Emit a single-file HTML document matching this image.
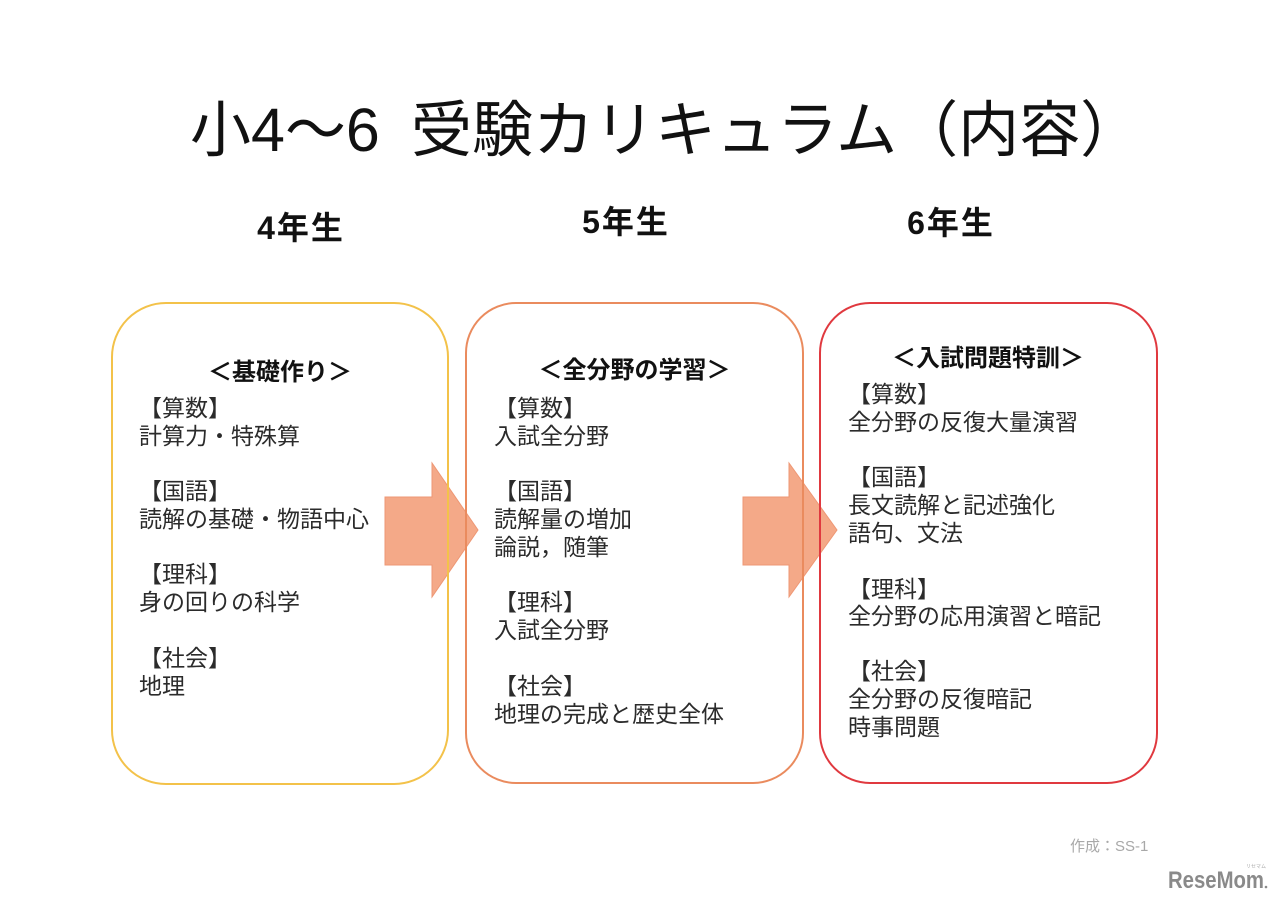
<!DOCTYPE html>
<html lang="ja">
<head>
<meta charset="utf-8">
<style>
  html, body { margin:0; padding:0; background:#ffffff; }
  body { width:1280px; height:904px; overflow:hidden; }
  svg { display:block; }
  .t { font-family:"Liberation Sans","Noto Sans CJK JP",sans-serif; }
</style>
</head>
<body>
<svg width="1280" height="904" viewBox="0 0 1280 904" xmlns="http://www.w3.org/2000/svg">
  <rect x="0" y="0" width="1280" height="904" fill="#ffffff"/>

  <!-- Title -->
  <text class="t" x="190" y="151" font-size="61" fill="#111">小4～6</text>
  <text class="t" x="411" y="151" font-size="61" fill="#111">受験カリキュラム（内容）</text>

  <!-- Year labels -->
  <text class="t" x="301" y="239" font-size="32" font-weight="bold" fill="#111" text-anchor="middle" letter-spacing="2">4年生</text>
  <text class="t" x="626" y="233" font-size="32" font-weight="bold" fill="#111" text-anchor="middle" letter-spacing="2">5年生</text>
  <text class="t" x="951" y="234" font-size="32" font-weight="bold" fill="#111" text-anchor="middle" letter-spacing="2">6年生</text>

  <!-- Arrows -->
  <polygon points="385,497 432,497 432,463 478,530 432,597 432,565 385,565" fill="#F4A988" stroke="#EE9774" stroke-width="1"/>
  <polygon points="743,497 789,497 789,463 837,530 789,597 789,565 743,565" fill="#F4A988" stroke="#EE9774" stroke-width="1"/>

  <!-- Boxes -->
  <rect x="112" y="303" width="336" height="481" rx="54" ry="54" fill="none" stroke="#F3C24A" stroke-width="2"/>
  <rect x="466" y="303" width="337" height="480" rx="50" ry="50" fill="none" stroke="#EA8B5E" stroke-width="2"/>
  <rect x="820" y="303" width="337" height="480" rx="50" ry="50" fill="none" stroke="#E0393F" stroke-width="2"/>

  <!-- Box 1 -->
  <g class="t" font-size="23" fill="#2b2b2b">
    <text x="280" y="380" font-size="24" font-weight="bold" fill="#111" text-anchor="middle">＜基礎作り＞</text>
    <text x="139" y="416">【算数】</text>
    <text x="139" y="444">計算力・特殊算</text>
    <text x="139" y="499">【国語】</text>
    <text x="139" y="527">読解の基礎・物語中心</text>
    <text x="139" y="582">【理科】</text>
    <text x="139" y="610">身の回りの科学</text>
    <text x="139" y="666">【社会】</text>
    <text x="139" y="694">地理</text>
  </g>

  <!-- Box 2 -->
  <g class="t" font-size="23" fill="#2b2b2b">
    <text x="634.5" y="378" font-size="24" font-weight="bold" fill="#111" text-anchor="middle">＜全分野の学習＞</text>
    <text x="494" y="416">【算数】</text>
    <text x="494" y="444">入試全分野</text>
    <text x="494" y="499">【国語】</text>
    <text x="494" y="527">読解量の増加</text>
    <text x="494" y="555">論説，随筆</text>
    <text x="494" y="610">【理科】</text>
    <text x="494" y="638">入試全分野</text>
    <text x="494" y="694">【社会】</text>
    <text x="494" y="722">地理の完成と歴史全体</text>
  </g>

  <!-- Box 3 -->
  <g class="t" font-size="23" fill="#2b2b2b">
    <text x="988" y="366" font-size="24" font-weight="bold" fill="#111" text-anchor="middle">＜入試問題特訓＞</text>
    <text x="848" y="402">【算数】</text>
    <text x="848" y="430">全分野の反復大量演習</text>
    <text x="848" y="485">【国語】</text>
    <text x="848" y="513">長文読解と記述強化</text>
    <text x="848" y="541">語句、文法</text>
    <text x="848" y="597">【理科】</text>
    <text x="848" y="624">全分野の応用演習と暗記</text>
    <text x="848" y="679">【社会】</text>
    <text x="848" y="707">全分野の反復暗記</text>
    <text x="848" y="735">時事問題</text>
  </g>

  <!-- Credit -->
  <text class="t" x="1070" y="851" font-size="15" fill="#a8a8a8">作成：SS-1</text>

  <!-- Watermark -->
  <text class="t" x="1168" y="888" font-size="24" font-weight="bold" fill="#8a8a8a" textLength="96" lengthAdjust="spacingAndGlyphs">ReseMom</text>
  <text class="t" x="1246" y="868" font-size="5" fill="#aaaaaa">リセマム</text>
  <circle cx="1266" cy="887" r="1.3" fill="#8a8a8a"/>
</svg>
</body>
</html>
